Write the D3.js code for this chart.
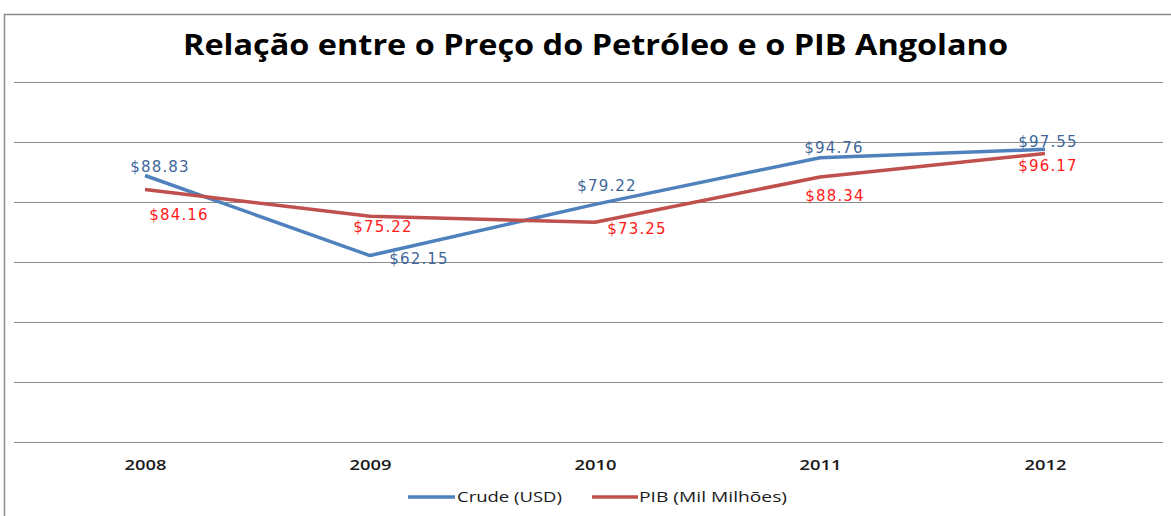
<!DOCTYPE html>
<html><head><meta charset="utf-8">
<script src="https://cdn.jsdelivr.net/npm/d3@7"></script>
<style>body{margin:0;background:#fff}svg{display:block}</style>
</head><body><svg id="c" width="1171" height="516"></svg>
<script>
const years = ["2008","2009","2010","2011","2012"];
const crude = [88.83, 62.15, 79.22, 94.76, 97.55];
const pib = [84.16, 75.22, 73.25, 88.34, 96.17];
const yTicks = [0,20,40,60,80,100,120];
const seriesNames = ["Crude (USD)", "PIB (Mil Milhões)"];
const title = "Relação entre o Preço do Petróleo e o PIB Angolano";
// label offsets (dx, dy) relative to point
const crudeOff = [[15,-4],[49,8],[12,-13],[14,-5],[3,-2]];
const pibOff = [[34,30],[13,16],[42,12],[15,24],[3,18]];

const svg = d3.select("#c");
const W = 1171, H = 516;
svg.append("rect").attr("x",4.5).attr("y",14.5).attr("width",W+10).attr("height",H+10)
  .attr("fill","#fff").attr("stroke","#8c8c8c").attr("stroke-width",1.5);

const x = d3.scalePoint().domain(years).range([32.5,1157.5]).padding(0.5);
const y = d3.scaleLinear().domain([0,120]).range([442,82]);

const yAxis = d3.axisLeft(y).tickValues(yTicks).tickSize(-(1163-14)).tickFormat("");
const gy = svg.append("g").attr("transform","translate(14,0)").call(yAxis);
gy.select(".domain").remove();
gy.selectAll(".tick line").attr("stroke","#8c8c8c").attr("stroke-width",1.2);

const xAxis = d3.axisBottom(x).tickSize(0).tickPadding(0);
const gx = svg.append("g").attr("transform","translate(0,442)").call(xAxis);
gx.select(".domain").remove();
gx.selectAll(".tick text").attr("y",28).attr("dy",0)
  .attr("font-family","'Open Sans',sans-serif")
  .attr("font-weight",600).attr("font-size",14).attr("fill","#1a1a1a")
  .attr("textLength",42).attr("lengthAdjust","spacingAndGlyphs");

svg.append("text").attr("x",595.5).attr("y",55).attr("text-anchor","middle")
  .attr("font-family","'Open Sans',sans-serif")
  .attr("font-weight","bold").attr("font-size",28).attr("fill","#000")
  .attr("textLength",825).attr("lengthAdjust","spacingAndGlyphs").text(title);

const line = d3.line().x((d,i)=>x(years[i])).y(d=>y(d));
const series = [
  {vals: crude, color:"#4F81BD", lab:"#41679a", off: crudeOff},
  {vals: pib, color:"#C0504D", lab:"#ff1a1a", off: pibOff}
];
series.forEach(s=>{
  svg.append("path").datum(s.vals).attr("d",line).attr("fill","none")
    .attr("stroke",s.color).attr("stroke-width",3.5).attr("stroke-linejoin","round");
});
series.forEach(s=>{
  svg.append("g").selectAll("text").data(s.vals).join("text")
    .attr("x",(d,i)=>x(years[i])+s.off[i][0])
    .attr("y",(d,i)=>y(d)+s.off[i][1])
    .attr("text-anchor","middle")
    .attr("font-family","'DejaVu Sans',Verdana,sans-serif").attr("font-size",15)
    .attr("letter-spacing",1.2).attr("fill",s.lab)
    .text(d=>"$"+d.toFixed(2));
});

// legend
const leg = [{x:408, w:47, tx:457, tl:105},{x:592, w:46, tx:639, tl:148}];
leg.forEach((l,i)=>{
  svg.append("line").attr("x1",l.x).attr("x2",l.x+l.w).attr("y1",497).attr("y2",497)
    .attr("stroke",series[i].color).attr("stroke-width",3.5);
  svg.append("text").attr("x",l.tx).attr("y",502)
    .attr("font-family","'Open Sans',sans-serif")
    .attr("font-size",14).attr("fill","#1a1a1a")
    .attr("textLength",l.tl).attr("lengthAdjust","spacingAndGlyphs").text(seriesNames[i]);
});
</script></body></html>
